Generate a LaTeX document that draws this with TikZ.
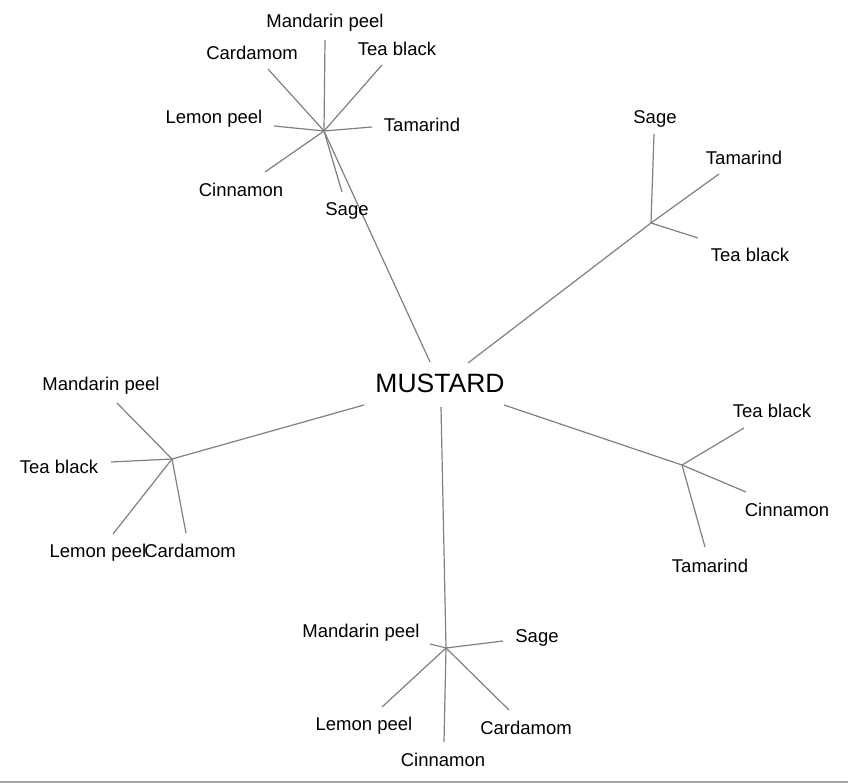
\documentclass[tikz,border=0pt]{standalone}
\usepackage{fontspec}
\setmainfont{Liberation Sans}
\begin{document}
\begin{tikzpicture}[x=1pt,y=-1pt,
  lbl/.style={inner sep=0pt,yshift=-2pt,font=\fontsize{18.5}{22}\selectfont},
  ctr/.style={inner sep=0pt,yshift=-1pt,font=\fontsize{26.5}{30}\selectfont},
  edge/.style={draw=black!50,line width=1.2pt}]
\useasboundingbox (0,0) rectangle (848,783);
\fill[white] (0,0) rectangle (848,783);
\draw[black!35,line width=1.5pt] (0,782) -- (848,782);
% centre
\node[ctr] (m) at (440,382) {MUSTARD};
\coordinate (mT) at (430,362);
\coordinate (mTR) at (468,363);
\coordinate (mR) at (504,405);
\coordinate (mL) at (364,405);
\coordinate (mB) at (441,407);
% hubs
\coordinate (h1) at (324,131);
\coordinate (h2) at (651,223);
\coordinate (h3) at (682,465);
\coordinate (h4) at (172,459);
\coordinate (h5) at (446,648);
\draw[edge] (mT) -- (h1);
\draw[edge] (mTR) -- (h2);
\draw[edge] (mR) -- (h3);
\draw[edge] (mL) -- (h4);
\draw[edge] (mB) -- (h5);
% top cluster
\node[lbl] (a1) at (325,21) {Mandarin peel};
\node[lbl] (a2) at (252,51) {Cardamom};
\node[lbl] (a3) at (397,47) {Tea black};
\node[lbl] (a4) at (214,117) {Lemon peel};
\node[lbl] (a5) at (422,123) {Tamarind};
\node[lbl] (a6) at (241,188) {Cinnamon};
\node[lbl] (a7) at (347,209) {Sage};
\coordinate (e1) at (325,40);
\coordinate (e2) at (268,69);
\coordinate (e3) at (382,65);
\coordinate (e4) at (274,126);
\coordinate (e5) at (372,127);
\coordinate (e6) at (265,172);
\coordinate (e7) at (342,192);
\foreach \i in {1,...,7} {\draw[edge] (h1) -- (e\i);}
% top-right cluster
\node[lbl] (b1) at (655,117) {Sage};
\node[lbl] (b2) at (744,156) {Tamarind};
\node[lbl] (b3) at (750,253) {Tea black};
\coordinate (f1) at (654,134);
\coordinate (f2) at (719,174);
\coordinate (f3) at (698,238);
\foreach \i in {1,2,3} {\draw[edge] (h2) -- (f\i);}
% right cluster
\node[lbl] (c1) at (772,409) {Tea black};
\node[lbl] (c2) at (787,508) {Cinnamon};
\node[lbl] (c3) at (710,564) {Tamarind};
\coordinate (g1) at (744,428);
\coordinate (g2) at (746,492);
\coordinate (g3) at (705,547);
\foreach \i in {1,2,3} {\draw[edge] (h3) -- (g\i);}
% left cluster
\node[lbl] (d1) at (101,384) {Mandarin peel};
\node[lbl] (d2) at (59,465) {Tea black};
\node[lbl] (d3) at (98,551) {Lemon peel};
\node[lbl] (d4) at (190,549) {Cardamom};
\coordinate (k1) at (117,403);
\coordinate (k2) at (111,462);
\coordinate (k3) at (113,534);
\coordinate (k4) at (186,533);
\foreach \i in {1,...,4} {\draw[edge] (h4) -- (k\i);}
% bottom cluster
\node[lbl] (p1) at (361,631) {Mandarin peel};
\node[lbl] (p2) at (537,636) {Sage};
\node[lbl] (p3) at (364,724) {Lemon peel};
\node[lbl] (p4) at (443,758) {Cinnamon};
\node[lbl] (p5) at (526,726) {Cardamom};
\coordinate (q1) at (430,644);
\coordinate (q2) at (503,641);
\coordinate (q3) at (382,707);
\coordinate (q4) at (444,742);
\coordinate (q5) at (509,710);
\foreach \i in {1,...,5} {\draw[edge] (h5) -- (q\i);}
\end{tikzpicture}
\end{document}
